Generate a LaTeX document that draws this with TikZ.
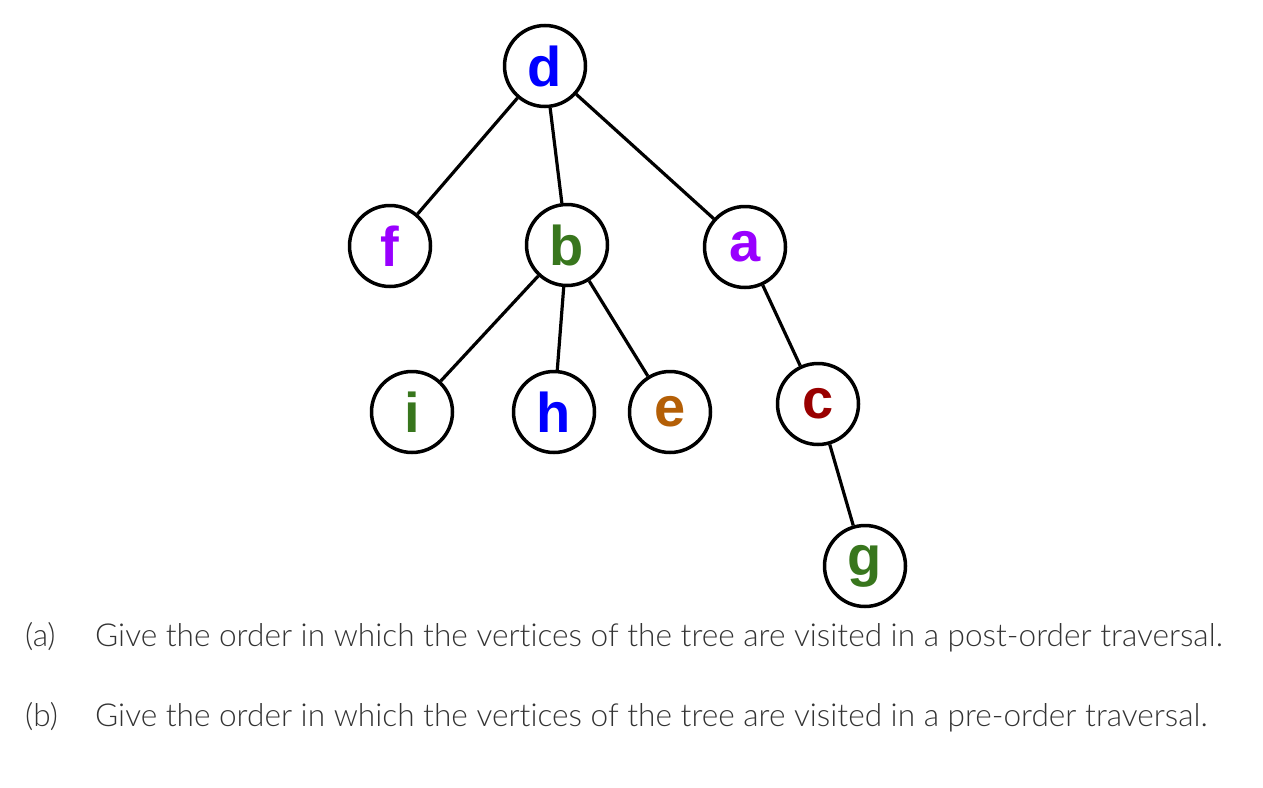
\documentclass[tikz,border=0pt]{standalone}
\usepackage{fontspec}
\setmainfont{Lato Light}[Ligatures=NoCommon]
\newfontfamily\nodefont{Liberation Sans}
\begin{document}
\begin{tikzpicture}[x=1pt,y=1pt,
  vert/.style={circle,draw=black,line width=3.5pt,minimum size=81pt,inner sep=0pt,fill=white,
    font=\nodefont\bfseries\fontsize{56}{56}\selectfont},
  edge/.style={line width=3.2pt},
  qtext/.style={anchor=base west,inner sep=0pt,text=qgray,font=\fontsize{31.6}{36}\selectfont}]
\definecolor{qgray}{HTML}{333333}
\definecolor{cblue}{HTML}{0000FF}
\definecolor{cpurple}{HTML}{9900FF}
\definecolor{cgreen}{HTML}{38761D}
\definecolor{corange}{HTML}{B45F06}
\definecolor{cred}{HTML}{990000}
\path[use as bounding box] (0,0) rectangle (1263,-787);
\node[vert,text=cblue]   (d) at (545,-66)  {d};
\node[vert,text=cpurple] (f) at (390,-246) {f};
\node[vert,text=cgreen]  (b) at (567,-245) {b};
\node[vert,text=cpurple] (a) at (745,-247) {a};
\node[vert,text=cgreen]  (i) at (412,-412) {i};
\node[vert,text=cblue]   (h) at (554,-412) {h};
\node[vert,text=corange] (e) at (670,-412) {e};
\node[vert,text=cred]    (c) at (818,-404) {c};
\node[vert,text=cgreen]  (g) at (865,-566) {g};
\draw[edge] (d) -- (f);
\draw[edge] (d) -- (b);
\draw[edge] (d) -- (a);
\draw[edge] (b) -- (i);
\draw[edge] (b) -- (h);
\draw[edge] (b) -- (e);
\draw[edge] (a) -- (c);
\draw[edge] (c) -- (g);
\node[qtext] (la) at (25,-646) {(a)};
\node[qtext] (ta) at (95,-646) {Give the order in which the vertices of the tree are visited in a post-order traversal.};
\node[qtext] (lb) at (25,-726) {(b)};
\node[qtext] (tb) at (95,-726) {Give the order in which the vertices of the tree are visited in a pre-order traversal.};
\end{tikzpicture}
\end{document}
